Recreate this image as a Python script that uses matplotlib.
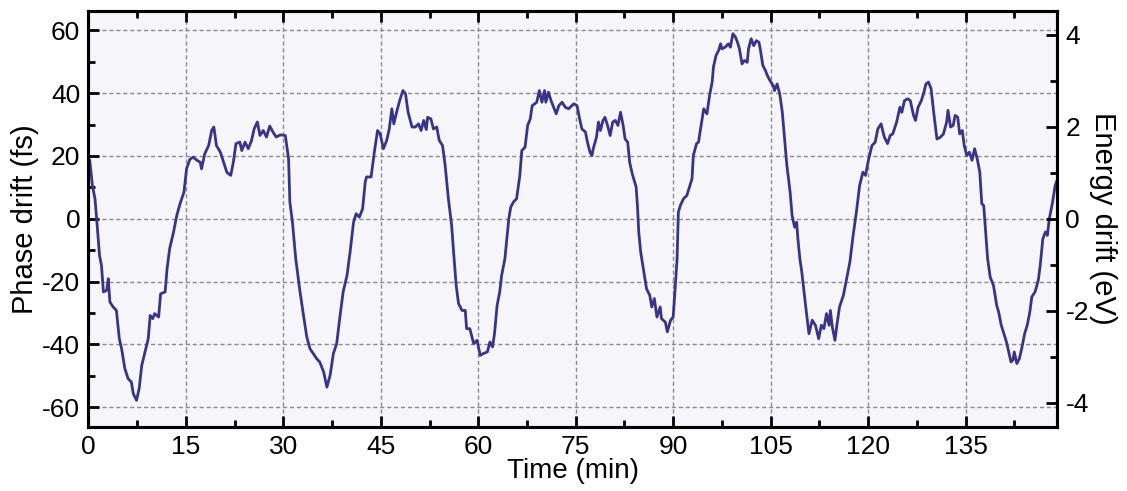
import numpy as np
import matplotlib.pyplot as plt
from matplotlib.ticker import MultipleLocator

plt.rcParams['font.family'] = ['Liberation Sans', 'DejaVu Sans']
plt.rcParams['axes.unicode_minus'] = False

# phase drift trace, time in minutes, drift in fs
time_min = [
    0.2, 0.6, 1.0, 1.26, 1.7, 2.0, 2.3, 2.8, 3.05, 3.3, 3.8, 4.3, 4.75, 5.1,
    5.6, 6.1, 6.6, 6.9, 7.4, 7.8, 8.2, 8.7, 9.2, 9.5, 9.9, 10.2, 10.8, 11.1,
    11.8, 12.1, 12.5, 13.1, 13.6, 14.1, 14.7, 15.1, 15.6, 16.1, 16.7, 17.2,
    17.4, 17.9, 18.5, 18.97, 19.3, 19.7, 20.3, 20.8, 21.3, 21.9, 22.3, 22.7,
    23.3, 23.6, 24.1, 24.6, 25.1, 25.5, 26.0, 26.4, 26.9, 27.4, 27.9, 28.4,
    28.9, 29.5, 30.3, 30.8, 31.0, 31.4, 31.9, 32.5, 33.1, 33.6, 34.1, 34.6,
    35.1, 35.6, 36.2, 36.7, 37.2, 37.7, 38.2, 38.7, 39.2, 39.8, 40.3, 40.8,
    41.2, 41.7, 42.2, 42.6, 42.8, 43.5, 44.0, 44.5, 44.9, 45.4, 45.9, 46.3,
    46.7, 47.0, 47.5, 47.9, 48.4, 48.8, 49.2, 49.8, 50.3, 50.8, 51.2, 51.6,
    52.0, 52.2, 52.7, 53.1, 53.6, 54.0, 54.5, 54.9, 55.4, 55.9, 56.2, 56.6,
    56.96, 57.5, 58.0, 58.2, 58.7, 59.3, 59.8, 60.3, 60.8, 61.4, 61.8, 62.2,
    62.5, 62.9, 63.3, 63.6, 64.1, 64.7, 65.0, 65.4, 65.9, 66.4, 66.7, 67.2,
    67.6, 68.0, 68.3, 68.7, 69.0, 69.4, 69.8, 70.2, 70.4, 70.8, 71.2, 71.6,
    72.0, 72.4, 72.9, 73.4, 73.9, 74.4, 74.7, 75.2, 75.6, 75.95, 76.5, 76.8,
    77.2, 77.5, 77.7, 78.2, 78.5, 78.8, 79.2, 79.5, 79.9, 80.3, 80.7, 81.1,
    81.5, 81.9, 82.3, 82.6, 83.0, 83.3, 83.7, 84.3, 84.5, 84.7, 85.0, 85.5,
    85.9, 86.4, 86.7, 87.1, 87.5, 88.0, 88.2, 88.8, 89.1, 89.6, 90.0, 90.3,
    90.6, 90.8, 91.1, 91.6, 92.1, 92.5, 92.9, 93.1, 93.6, 93.9, 94.3, 94.7,
    95.2, 95.6, 96.0, 96.2, 96.6, 97.0, 97.3, 97.5, 98.0, 98.5, 98.8, 99.2,
    99.6, 99.9, 100.2, 100.6, 100.98, 101.4, 101.6, 102.0, 102.4, 102.8,
    103.2, 103.4, 103.8, 104.2, 104.5, 104.9, 105.4, 105.6, 106.0, 106.4,
    106.8, 107.1, 107.5, 108.0, 108.3, 108.7, 109.0, 109.2, 109.5, 109.8,
    110.2, 110.5, 110.9, 111.4, 111.9, 112.4, 112.8, 113.2, 113.6, 114.0,
    114.2, 114.5, 114.9, 115.2, 115.6, 116.2, 116.7, 117.2, 117.7, 118.2,
    118.7, 119.2, 119.6, 120.1, 120.6, 121.1, 121.5, 122.0, 122.5, 123.0,
    123.4, 123.8, 124.4, 124.9, 125.2, 125.6, 126.1, 126.5, 127.0, 127.3,
    127.7, 128.2, 128.6, 128.9, 129.3, 129.7, 130.1, 130.6, 131.1, 131.6,
    132.1, 132.3, 132.7, 133.1, 133.4, 133.8, 134.1, 134.5, 134.8, 135.2,
    135.6, 136.0, 136.4, 136.8, 137.2, 137.5, 137.8, 138.1, 138.4, 138.8,
    139.3, 139.8, 140.1, 140.5, 140.9, 141.3, 141.6, 142.0, 142.3, 142.5,
    142.9, 143.3, 143.7, 144.1, 144.5, 144.9, 145.2, 145.7, 146.2, 146.5,
    146.9, 147.3, 147.6, 147.9, 148.4, 148.8, 149.1,
]
phase_fs = [
    18.6, 10.6, 6.4, 0.0, -11.7, -14.8, -23.3, -22.8, -19.1, -26.5, -28.1,
    -29.2, -38.2, -41.4, -47.7, -50.9, -52.0, -55.7, -57.8, -54.1, -46.7,
    -42.4, -38.2, -30.8, -31.8, -30.2, -31.3, -23.9, -23.3, -15.9, -9.5,
    -4.2, 1.1, 4.8, 8.5, 15.9, 18.9, 19.6, 18.6, 18.0, 15.9, 20.7, 23.3,
    28.1, 29.2, 23.3, 21.2, 18.0, 14.8, 13.8, 18.0, 23.9, 24.4, 21.7, 24.4,
    22.3, 24.9, 28.6, 30.8, 26.5, 28.1, 26.0, 29.5, 27.6, 26.0, 26.7, 26.5,
    19.1, 5.3, -1.1, -12.7, -22.3, -30.8, -37.6, -41.4, -42.9, -44.5, -45.6,
    -48.8, -53.6, -49.8, -42.9, -39.8, -31.3, -23.3, -18.0, -10.1, -1.1,
    1.6, 0.5, 3.2, 11.7, 13.3, 13.3, 21.2, 28.1, 27.0, 22.3, 24.9, 28.6,
    35.0, 30.2, 34.5, 37.6, 40.8, 39.8, 33.9, 29.2, 29.2, 30.2, 28.1, 31.3,
    28.4, 32.3, 31.8, 28.6, 29.2, 24.9, 23.3, 17.0, 6.4, -2.1, -10.6, -21.2,
    -27.0, -29.2, -29.2, -35.0, -35.0, -39.8, -38.7, -43.5, -42.9, -42.4,
    -39.2, -40.8, -36.6, -27.6, -23.3, -18.0, -12.7, 0.0, 3.7, 5.3, 6.4,
    13.8, 21.7, 22.8, 29.7, 31.8, 36.0, 36.6, 37.1, 40.8, 37.1, 40.8, 37.1,
    40.3, 37.6, 35.5, 33.4, 36.0, 37.1, 35.5, 35.0, 36.0, 36.6, 36.0, 31.8,
    28.6, 27.6, 24.4, 21.2, 20.1, 22.3, 26.0, 30.8, 28.1, 31.3, 32.3, 29.7,
    26.5, 30.8, 31.3, 29.7, 33.9, 29.7, 25.4, 24.4, 18.0, 14.3, 10.1, 4.2,
    -4.2, -10.6, -17.0, -22.3, -24.4, -28.1, -25.4, -31.3, -28.1, -31.8,
    -32.9, -36.0, -32.3, -31.3, -22.3, -12.7, 2.1, 4.2, 6.4, 7.4, 10.1,
    12.7, 20.1, 23.9, 24.4, 29.7, 35.0, 33.4, 39.2, 43.5, 48.3, 52.0, 53.6,
    55.7, 54.1, 54.6, 55.7, 54.6, 58.9, 57.8, 56.2, 54.1, 49.3, 50.4, 49.8,
    54.1, 57.3, 55.1, 56.7, 56.2, 54.1, 48.8, 47.2, 45.6, 44.0, 42.4, 40.8,
    42.9, 39.8, 33.9, 26.5, 17.0, 8.5, 1.1, -2.7, -1.1, -6.4, -12.7, -17.0,
    -24.4, -29.7, -36.6, -32.3, -33.9, -38.2, -33.9, -35.0, -30.2, -33.9,
    -29.2, -34.5, -38.7, -33.9, -28.1, -24.4, -19.1, -13.8, -5.3, 2.1, 10.6,
    14.8, 13.8, 19.1, 23.3, 24.4, 28.6, 30.2, 26.0, 23.9, 26.5, 27.0, 30.8,
    35.5, 33.9, 37.6, 38.2, 37.6, 32.9, 31.3, 35.5, 37.6, 40.3, 42.9, 43.5,
    41.4, 33.9, 25.4, 25.9, 27.0, 30.8, 34.5, 29.2, 29.7, 32.9, 32.3, 27.0,
    28.1, 23.3, 20.1, 21.2, 18.6, 22.3, 19.1, 14.8, 4.8, 4.2, -4.2, -12.7,
    -18.6, -21.2, -27.6, -29.7, -33.9, -36.6, -39.2, -41.9, -45.6, -45.0,
    -42.4, -46.1, -44.5, -40.8, -36.6, -33.9, -29.7, -24.9, -23.3, -19.6,
    -14.8, -6.4, -4.2, -5.3, 0.0, 5.3, 10.6, 12.3,
]

x_ticks = [0, 15, 30, 45, 60, 75, 90, 105, 120, 135]
y_ticks = [-60, -40, -20, 0, 20, 40, 60]
ev_ticks = [-4, -2, 0, 2, 4]

fig = plt.figure(figsize=(11.27, 4.91), dpi=100)
ax = fig.add_axes([0.0785, 0.131, 0.8595, 0.847])
ax.set_facecolor('#f5f5fa')

ax.plot(time_min, phase_fs, color='#3a3488', lw=2.0, zorder=3)

ax.set_xlim(0, 149.1)
ax.set_ylim(-66.2, 66.2)
ax.set_xticks(x_ticks)
ax.set_yticks(y_ticks)
ax.xaxis.set_minor_locator(MultipleLocator(7.5))
ax.yaxis.set_minor_locator(MultipleLocator(10))
ax.grid(True, which='major', ls=(0, (3, 2)), color='#8c8c8c', lw=1.0)
ax.tick_params(which='both', direction='in', top=True, width=2, labelsize=19, pad=6)
ax.tick_params(which='major', length=8)
ax.tick_params(which='minor', length=5)
ax.tick_params(axis='y', right=False)
for s in ax.spines.values():
    s.set_linewidth(2.2)

ax.set_xlabel('Time (min)', fontsize=20, labelpad=-1)
ax.set_ylabel('Phase drift (fs)', fontsize=21, labelpad=2)

# energy axis on the right, same scale as phase
ax2 = ax.twinx()
ax2.set_ylim(-4.52, 4.52)
ax2.set_yticks(ev_ticks)
ax2.yaxis.set_minor_locator(MultipleLocator(1))
ax2.tick_params(which='both', direction='in', width=2, labelsize=19, pad=6)
ax2.tick_params(which='major', length=8)
ax2.tick_params(which='minor', length=5)
ax2.set_ylabel('Energy drift (eV)', fontsize=21, rotation=270, labelpad=20)
for s in ax2.spines.values():
    s.set_linewidth(2.2)

fig.savefig('out.png', dpi=100)
